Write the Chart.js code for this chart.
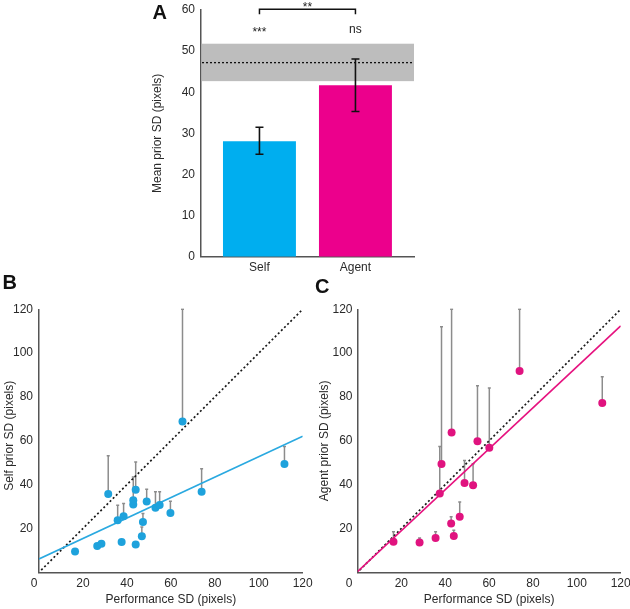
<!DOCTYPE html>
<html><head><meta charset="utf-8">
<script src="https://cdn.jsdelivr.net/npm/chart.js@4.4.1/dist/chart.umd.min.js"></script>
<style>
html,body{margin:0;padding:0;background:#fff;overflow:hidden;width:630px;height:609px;position:relative}
canvas{position:absolute;display:block}
.lab{position:absolute;font:bold 20px "Liberation Sans",Arial,Helvetica,sans-serif;line-height:20px;color:#111}
</style></head><body>
<canvas id="ca" width="310" height="305" style="left:120px;top:-20px;width:310px;height:305px"></canvas>
<canvas id="cb" width="345" height="339" style="left:-20px;top:270px;width:345px;height:339px"></canvas>
<canvas id="cc" width="360" height="339" style="left:290px;top:270px;width:360px;height:339px"></canvas>
<div class="lab" style="left:152.5px;top:2px">A</div>
<div class="lab" style="left:2.5px;top:272px">B</div>
<div class="lab" style="left:315px;top:276px">C</div>
<script>
// ---------- Panel A data ----------
const groups = ['Self', 'Agent'];
const meanPriorSD = [28.1, 41.7];
const meanErrLow = [24.9, 35.3];
const meanErrHigh = [31.5, 48.1];
const perfBandLow = 42.7;
const perfBandHigh = 51.8;
const perfMean = 47.2;
const sigVsPerf = ['***', 'ns'];
const sigBetween = '**';
const yTicksA = [0, 10, 20, 30, 40, 50, 60];

// ---------- Panels B / C data ----------
const ticksBC = [0, 20, 40, 60, 80, 100, 120];

const selfPerfSD  = [16.4, 26.5, 28.4, 31.5, 35.8, 37.6, 38.5, 42.9, 42.9, 44.0, 44.0, 46.8, 47.3, 49.0, 53.0, 54.9, 59.8, 65.3, 74.0, 111.7];
const selfPriorSD = [9.5, 12.0, 13.0, 35.7, 23.8, 13.8, 25.6, 30.9, 32.9, 37.7, 12.7, 16.5, 22.9, 32.3, 29.5, 30.7, 27.1, 68.8, 36.7, 49.4];
const selfPriorUp = [9.5, 12.0, 13.0, 53.2, 30.6, 13.8, 31.4, 33.5, 43.5, 50.3, 12.7, 20.7, 26.8, 37.9, 36.7, 36.7, 32.4, 120, 47.3, 57.4];
const selfFitX = [0, 120];
const selfFitY = [6.1, 62.1];

const agentPerfSD  = [16.4, 28.3, 35.6, 37.5, 38.3, 42.7, 42.9, 43.9, 46.6, 48.8, 52.7, 54.7, 60.1, 73.9, 111.6];
const agentPriorSD = [13.9, 13.6, 15.7, 35.9, 49.4, 22.3, 63.8, 16.6, 25.3, 40.7, 39.7, 59.8, 56.8, 91.8, 77.3];
const agentPriorUp = [18.5, 15.7, 18.5, 57.4, 112, 25.3, 120, 19.2, 32.1, 51.0, 49.5, 85.1, 84.1, 120, 89.2];
const agentFitX = [0, 120];
const agentFitY = [0.3, 112.4];

const identityX = [1, 120];
const identityY = [1, 120];

// ---------- styles ----------
const FONT = '"Liberation Sans", Arial, Helvetica, sans-serif';
Chart.defaults.font.family = FONT;
Chart.defaults.font.size = 12;
Chart.defaults.color = '#2a2a2a';
const AXIS = {color: '#555', width: 1.5};
const SELF_BAR = '#00aeef', AGENT_BAR = '#ec008c';
const SELF_PT = '#1ea2dc', AGENT_PT = '#e0137f';
const SELF_FIT = '#2aa9e0', AGENT_FIT = '#e6127f';

// ---------- Panel A ----------
const bandPlugin = {
  id: 'band',
  beforeDatasetsDraw(chart) {
    const {ctx, chartArea: a, scales: {y}} = chart;
    const y1 = y.getPixelForValue(perfBandHigh), y0 = y.getPixelForValue(perfBandLow);
    ctx.save();
    ctx.fillStyle = '#bdbdbd';
    ctx.fillRect(a.left + 0.75, y1, a.right - a.left - 0.75, y0 - y1);
    const ym = y.getPixelForValue(perfMean);
    ctx.strokeStyle = '#111'; ctx.lineWidth = 1.3; ctx.setLineDash([2, 2]);
    ctx.beginPath(); ctx.moveTo(a.left + 1, ym); ctx.lineTo(a.right, ym); ctx.stroke();
    ctx.restore();
  }
};
const errAPlugin = {
  id: 'errA',
  afterDatasetsDraw(chart) {
    const {ctx, chartArea: a, scales: {x, y}} = chart;
    ctx.save();
    ctx.strokeStyle = '#111'; ctx.lineWidth = 1.6;
    groups.forEach((g, i) => {
      const px = x.getPixelForValue(i + 1);
      const yl = y.getPixelForValue(meanErrLow[i]), yh = y.getPixelForValue(meanErrHigh[i]);
      ctx.beginPath();
      ctx.moveTo(px, yl); ctx.lineTo(px, yh);
      ctx.moveTo(px - 4, yl); ctx.lineTo(px + 4, yl);
      ctx.moveTo(px - 4, yh); ctx.lineTo(px + 4, yh);
      ctx.stroke();
    });
    // significance marks
    const p1 = x.getPixelForValue(1), p2 = x.getPixelForValue(2);
    const by = a.top - 0.7;
    ctx.lineWidth = 1.5;
    ctx.beginPath();
    ctx.moveTo(p1, by + 5); ctx.lineTo(p1, by); ctx.lineTo(p2, by); ctx.lineTo(p2, by + 5);
    ctx.stroke();
    ctx.fillStyle = '#222';
    ctx.textAlign = 'center'; ctx.textBaseline = 'alphabetic';
    ctx.font = '12px ' + FONT;
    ctx.fillText(sigBetween, (p1 + p2) / 2, a.top + 0.5);
    ctx.fillText(sigVsPerf[0], p1, a.top + 26);
    ctx.fillText(sigVsPerf[1], p2, a.top + 23.3);
    ctx.restore();
  }
};

new Chart(document.getElementById('ca'), {
  type: 'bar',
  data: {
    datasets: [{
      data: groups.map((g, i) => ({x: i + 1, y: meanPriorSD[i]})),
      backgroundColor: [SELF_BAR, AGENT_BAR],
      borderWidth: 0,
      barPercentage: 0.76,
      categoryPercentage: 1
    }]
  },
  options: {
    responsive: false, animation: false, devicePixelRatio: 1, events: [],
    layout: {padding: {left: 0, top: 30, right: 16, bottom: 0}},
    plugins: {legend: {display: false}, tooltip: {enabled: false}},
    scales: {
      x: {
        type: 'linear', min: 0.391, max: 2.61, offset: false,
        grid: {display: false, drawTicks: false}, border: AXIS,
        afterBuildTicks: s => { s.ticks = groups.map((g, i) => ({value: i + 1})); },
        ticks: {callback: v => groups[v - 1], padding: 4, autoSkip: false, maxRotation: 0, font: {size: 12}},
        afterFit: s => { s.height = 28.3; }
      },
      y: {
        min: 0, max: 60,
        grid: {display: false, drawTicks: false}, border: AXIS,
        afterBuildTicks: s => { s.ticks = yTicksA.map(v => ({value: v})); },
        ticks: {padding: 6, font: {size: 12}},
        title: {display: true, text: 'Mean prior SD (pixels)', padding: {top: 30.8, bottom: 0}, font: {size: 12}},
        afterFit: s => { s.width = 81; }
      }
    }
  },
  plugins: [bandPlugin, errAPlugin]
});

// ---------- Panels B & C ----------
function upErrPlugin(xs, ys, tops) {
  return {
    id: 'upErr',
    beforeDatasetsDraw(chart) {
      const {ctx, chartArea: a, scales: {x, y}} = chart;
      ctx.save();
      ctx.beginPath(); ctx.rect(a.left, a.top - 1, a.right - a.left, a.bottom - a.top + 1); ctx.clip();
      ctx.strokeStyle = '#8c8c8c'; ctx.lineWidth = 1.5;
      xs.forEach((xv, i) => {
        if (!(tops[i] > ys[i])) return;
        const px = x.getPixelForValue(xv);
        const y0 = y.getPixelForValue(ys[i]), y1 = y.getPixelForValue(tops[i]);
        ctx.beginPath();
        ctx.moveTo(px, y0); ctx.lineTo(px, y1);
        ctx.moveTo(px - 1.5, y1); ctx.lineTo(px + 1.5, y1);
        ctx.stroke();
      });
      ctx.restore();
    }
  };
}

function scatterPanel(id, cfg) {
  new Chart(document.getElementById(id), {
    type: 'scatter',
    data: {
      datasets: [
        {
          data: cfg.xs.map((v, i) => ({x: v, y: cfg.ys[i]})),
          backgroundColor: cfg.pt, borderColor: cfg.pt, borderWidth: 0,
          pointRadius: 4, order: 0
        },
        {
          data: cfg.fitX.map((v, i) => ({x: v, y: cfg.fitY[i]})),
          showLine: true, borderColor: cfg.fit, borderWidth: 1.6, pointRadius: 0, order: 1
        },
        {
          data: identityX.map((v, i) => ({x: v, y: identityY[i]})),
          showLine: true, borderColor: '#1a1a1a', borderWidth: 1.7, borderDash: [2, 2.4],
          pointRadius: 0, order: 2
        }
      ]
    },
    options: {
      responsive: false, animation: false, devicePixelRatio: 1, events: [],
      layout: {padding: {left: 0, top: 39.3, right: cfg.padRight, bottom: 0}},
      plugins: {legend: {display: false}, tooltip: {enabled: false}},
      scales: {
        x: {
          type: 'linear', min: 0, max: 120,
          grid: {display: false, drawTicks: false}, border: AXIS,
          afterBuildTicks: s => { s.ticks = ticksBC.map(v => ({value: v})); },
          ticks: {callback: v => v === 0 ? '0' + cfg.zeroPad : String(v), padding: 4, maxRotation: 0, autoSkip: false, font: {size: 12}},
          title: {display: true, text: 'Performance SD (pixels)', padding: {top: 0, bottom: 2.3}, font: {size: 12}},
          afterFit: s => { s.height = 36.7; }
        },
        y: {
          min: 0, max: 120,
          grid: {display: false, drawTicks: false}, border: AXIS,
          afterBuildTicks: s => { s.ticks = ticksBC.filter(v => v > 0).map(v => ({value: v})); },
          ticks: {padding: cfg.yTickPad, font: {size: 12}},
          title: {display: true, text: cfg.yTitle, padding: {top: cfg.yTitlePad, bottom: 0}, font: {size: 12}},
          afterFit: s => { s.width = cfg.yWidth; }
        }
      }
    },
    plugins: [upErrPlugin(cfg.xs, cfg.ys, cfg.tops)]
  });
}

scatterPanel('cb', {
  xs: selfPerfSD, ys: selfPriorSD, tops: selfPriorUp,
  fitX: selfFitX, fitY: selfFitY, pt: SELF_PT, fit: SELF_FIT,
  yTitle: '   Self prior SD (pixels)', padRight: 22.3, yWidth: 59, yTitlePad: 22.3, yTickPad: 6,
  zeroPad: '   '
});
scatterPanel('cc', {
  xs: agentPerfSD, ys: agentPriorSD, tops: agentPriorUp,
  fitX: agentFitX, fitY: agentFitY, pt: AGENT_PT, fit: AGENT_FIT,
  yTitle: 'Agent prior SD (pixels)', padRight: 29.3, yWidth: 67.5, yTitlePad: 27.8, yTickPad: 5,
  zeroPad: '     '
});
</script>
</body></html>
